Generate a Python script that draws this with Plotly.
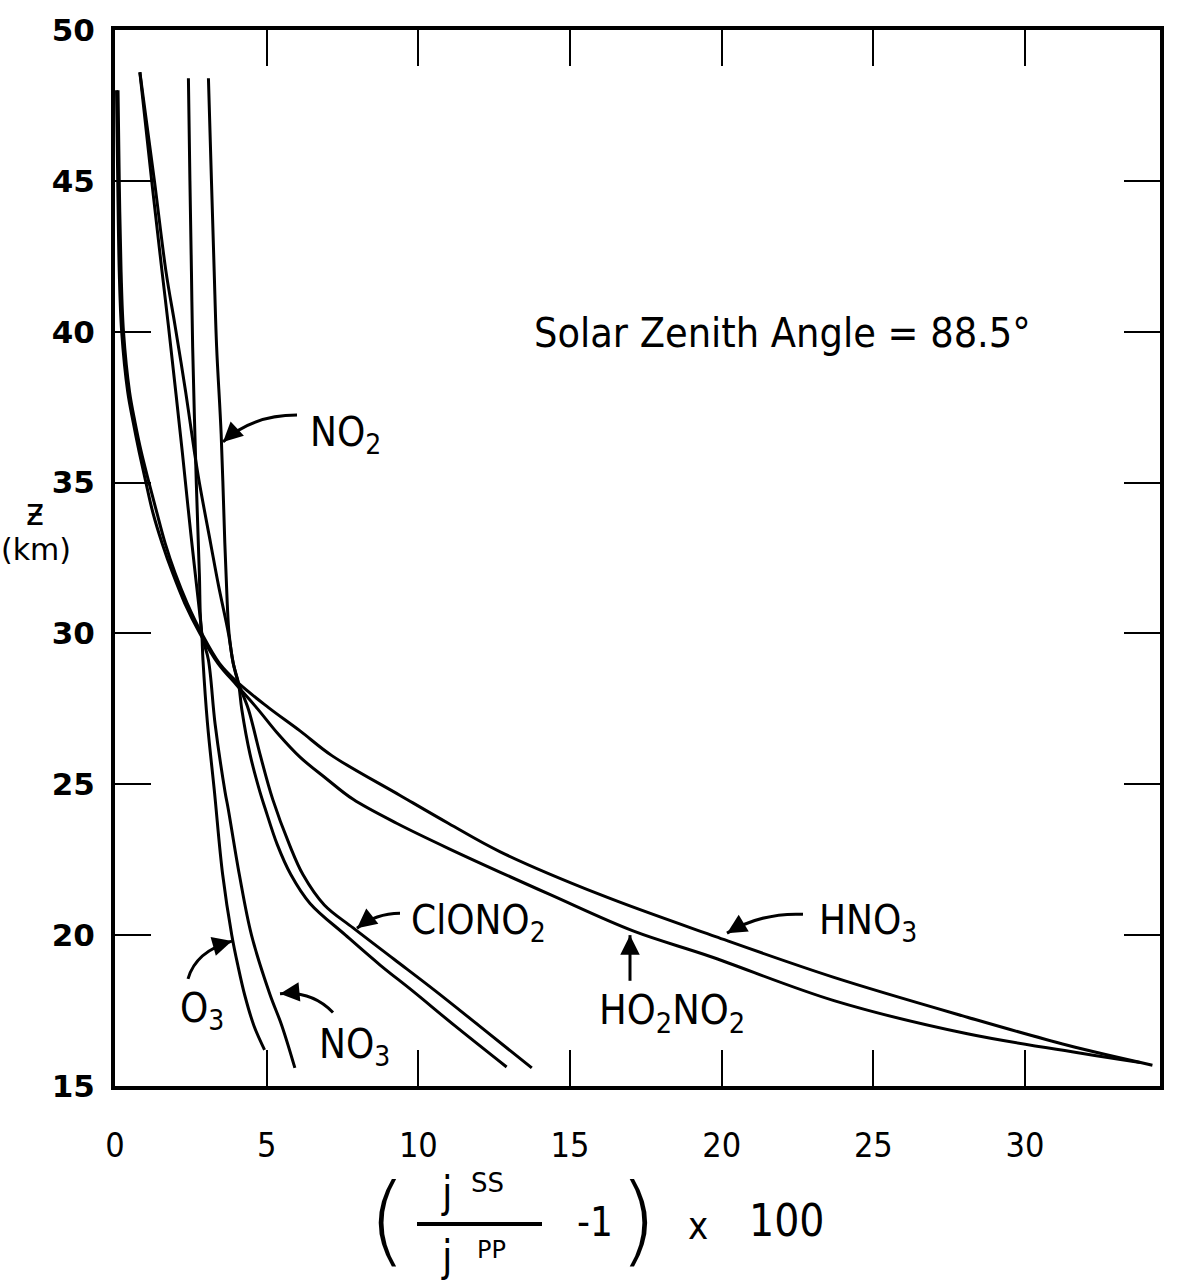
import plotly.graph_objects as go

# ---------------- data ----------------
# altitude z (km) and (jSS/jPP - 1) x 100 for each species
HNO3_z = [48.0, 45.0, 42.0, 40.0, 38.0, 37.0, 36.0, 35.0, 34.0, 33.0, 32.0, 31.0, 30.0, 29.0,
          28.35, 27.55, 26.77, 25.95, 24.63, 23.7, 22.76, 21.34, 19.95, 18.6, 17.28, 16.35, 15.69]
HNO3_v = [0.1, 0.14, 0.2, 0.28, 0.48, 0.66, 0.87, 1.12, 1.38, 1.65, 1.98, 2.38, 2.86, 3.45,
          4.07, 5.05, 6.1, 7.15, 9.4, 11.0, 12.7, 16.0, 19.8, 23.7, 28.1, 31.4, 34.2]

HO2NO2_z = [48.0, 45.0, 42.0, 40.0, 38.0, 37.0, 36.0, 35.0, 34.0, 33.0, 32.0, 31.0, 30.0, 29.0,
            28.3, 27.5, 26.7, 25.9, 25.2, 24.5, 23.7, 22.87, 21.34, 20.13, 19.3, 17.83, 16.73,
            16.08, 15.78]
HO2NO2_v = [0.05, 0.09, 0.14, 0.22, 0.42, 0.6, 0.8, 1.02, 1.25, 1.55, 1.9, 2.3, 2.8, 3.4,
            4.0, 4.7, 5.35, 6.1, 6.95, 7.85, 9.3, 11.0, 14.35, 17.1, 19.6, 23.7, 28.1,
            31.9, 33.8]

CLONO2_z = [48.6, 45.0, 42.0, 40.2, 38.0, 36.0, 35.0, 33.0, 31.6, 30.0, 29.0, 28.35, 27.48,
            26.0, 24.5, 23.0, 22.0, 21.0, 20.24, 19.2, 18.16, 17.0, 15.6]
CLONO2_v = [0.82, 1.3, 1.68, 1.98, 2.33, 2.62, 2.78, 3.15, 3.41, 3.74, 3.9, 4.07, 4.40,
            4.78, 5.2, 5.75, 6.2, 6.9, 7.85, 9.2, 10.55, 12.0, 13.74]

NO2_z = [48.4, 45.0, 42.0, 39.5, 36.6, 33.0, 31.0, 30.0, 29.0, 28.35, 27.48, 26.0, 24.74,
         24.2, 23.0, 22.0, 21.05, 20.0, 19.0, 18.16, 17.0, 15.63]
NO2_v = [3.08, 3.18, 3.27, 3.35, 3.5, 3.62, 3.7, 3.76, 3.9, 4.07, 4.18, 4.45, 4.78,
         4.95, 5.35, 5.8, 6.43, 7.6, 8.75, 9.8, 11.2, 12.91]

O3_z = [48.6, 45.0, 42.0, 40.2, 36.0, 33.3, 30.6, 30.0, 29.12, 27.0, 24.74, 22.0, 20.0,
        19.0, 18.0, 17.0, 16.2]
O3_v = [0.82, 1.21, 1.55, 1.76, 2.22, 2.5, 2.8, 2.86, 2.9, 3.05, 3.28, 3.55, 3.85,
        4.05, 4.28, 4.58, 4.93]

NO3_z = [48.4, 45.0, 42.0, 39.5, 35.0, 32.0, 30.0, 29.12, 27.0, 24.74, 24.2, 22.0, 20.0,
         18.06, 17.0, 15.6]
NO3_v = [2.42, 2.47, 2.52, 2.56, 2.68, 2.78, 2.86, 3.08, 3.3, 3.63, 3.73, 4.1, 4.5,
         5.1, 5.5, 5.93]

X_TICKS = [0, 5, 10, 15, 20, 25, 30]
Y_TICKS = [15, 20, 25, 30, 35, 40, 45, 50]
X_RANGE = [0, 34.45]
Y_RANGE = [15, 50]

SERIES = [
    ("HNO3", HNO3_v, HNO3_z),
    ("HO2NO2", HO2NO2_v, HO2NO2_z),
    ("ClONO2", CLONO2_v, CLONO2_z),
    ("NO2", NO2_v, NO2_z),
    ("O3", O3_v, O3_z),
    ("NO3", NO3_v, NO3_z),
]

# ---------------- layout geometry ----------------
W, H = 1189, 1281
L, R, T, B = 115, 29, 22, 195
PW, PH = W - L - R, H - T - B


def paper(px, py):
    return (px - L) / PW, (T + PH - py) / PH


def data(px, py):
    v = X_RANGE[0] + (px - L) / PW * (X_RANGE[1] - X_RANGE[0])
    z = Y_RANGE[1] - (py - T) / PH * (Y_RANGE[1] - Y_RANGE[0])
    return v, z


LABEL_FONT = "DejaVu Sans Condensed, DejaVu Sans, sans-serif"

fig = go.Figure()
for name, v, z in SERIES:
    fig.add_trace(go.Scatter(x=v, y=z, mode="lines", name=name,
                             line=dict(color="black", width=3, shape="spline", smoothing=1.0),
                             showlegend=False, hoverinfo="skip"))

annotations = []
shapes = []


def text(px, py, s, size, family=LABEL_FONT, weight=None):
    x, y = paper(px, py)
    f = dict(size=size, color="black", family=family)
    if weight is not None:
        f["weight"] = weight
    annotations.append(dict(x=x, y=y, xref="paper", yref="paper", text=s, showarrow=False,
                            xanchor="center", yanchor="middle", font=f))


# species labels
text(345, 430, "NO<sub>2</sub>", 40)
text(478, 922, "ClONO<sub>2</sub>", 40)
text(868, 922, "HNO<sub>3</sub>", 40)
text(672, 1012, "HO<sub>2</sub>NO<sub>2</sub>", 41)
text(202, 1010, "O<sub>3</sub>", 40)
text(354, 1047, "NO<sub>3</sub>", 40)
text(782, 327, "Solar Zenith Angle = 88.5°", 41)

# curved arrows: tail, control, tip (screen px)
ARROWS = [
    ((297, 410), (252, 410), (223, 437)),
    ((400, 912), (376, 912), (357, 927)),
    ((803, 913), (762, 911), (727, 932)),
    ((630, 980), (630, 957), (630, 934)),
    ((188, 978), (196, 950), (232, 940)),
    ((333, 1012), (312, 990), (280, 993)),
]
for tail, ctrl, tip in ARROWS:
    t = data(*tail)
    c = data(*ctrl)
    p = data(*tip)
    shapes.append(dict(type="path", xref="x", yref="y",
                       path=f"M {t[0]} {t[1]} Q {c[0]} {c[1]} {p[0]} {p[1]}",
                       line=dict(color="black", width=3)))
    dx, dy = tip[0] - ctrl[0], tip[1] - ctrl[1]
    n = (dx * dx + dy * dy) ** 0.5
    annotations.append(dict(x=p[0], y=p[1], xref="x", yref="y", text="", showarrow=True,
                            ax=-14 * dx / n, ay=-14 * dy / n, arrowhead=2, arrowsize=1.3,
                            arrowwidth=3, arrowcolor="black", standoff=0))

# y-axis title
text(35, 508, "ƶ", 38)
text(36, 545, "(km)", 30, family="DejaVu Sans, sans-serif")

# x-axis title (fraction)
text(387, 1221, "(", 98, family="DejaVu Sans, sans-serif", weight=200)
text(447, 1193, "j", 42)
text(487, 1184, "SS", 26, family="DejaVu Sans, sans-serif")
x0, y0 = paper(417, 1225)
x1, _ = paper(542, 1225)
shapes.append(dict(type="line", xref="paper", yref="paper", x0=x0, x1=x1, y0=y0, y1=y0,
                   line=dict(color="black", width=4)))
text(447, 1258, "j", 42)
text(491, 1251, "PP", 24, family="DejaVu Sans, sans-serif")
text(595, 1223, "-1", 40)
text(638, 1221, ")", 98, family="DejaVu Sans, sans-serif", weight=200)
text(698, 1227, "x", 38)
text(787, 1222, "100", 44)

axis_common = dict(showline=True, linewidth=4, linecolor="black", mirror="ticks",
                   ticks="inside", ticklen=36, tickwidth=2, tickcolor="black",
                   showgrid=False, zeroline=False)

fig.update_layout(
    width=W, height=H,
    margin=dict(l=L, r=R, t=T, b=B, pad=0),
    paper_bgcolor="white", plot_bgcolor="white",
    xaxis=dict(range=X_RANGE, tickvals=X_TICKS, ticktext=[str(t) for t in X_TICKS],
               tickfont=dict(size=34, color="black",
                             family="Liberation Sans Narrow, DejaVu Sans Condensed, sans-serif"),
               ticklabelstandoff=26, **axis_common),
    yaxis=dict(range=Y_RANGE, tickvals=Y_TICKS, ticktext=[str(t) for t in Y_TICKS],
               tickfont=dict(size=31, color="black", family="DejaVu Sans, sans-serif",
                             weight="bold"),
               ticklabelstandoff=10, **axis_common),
    annotations=annotations,
    shapes=shapes,
)

fig.write_html("out.html")
